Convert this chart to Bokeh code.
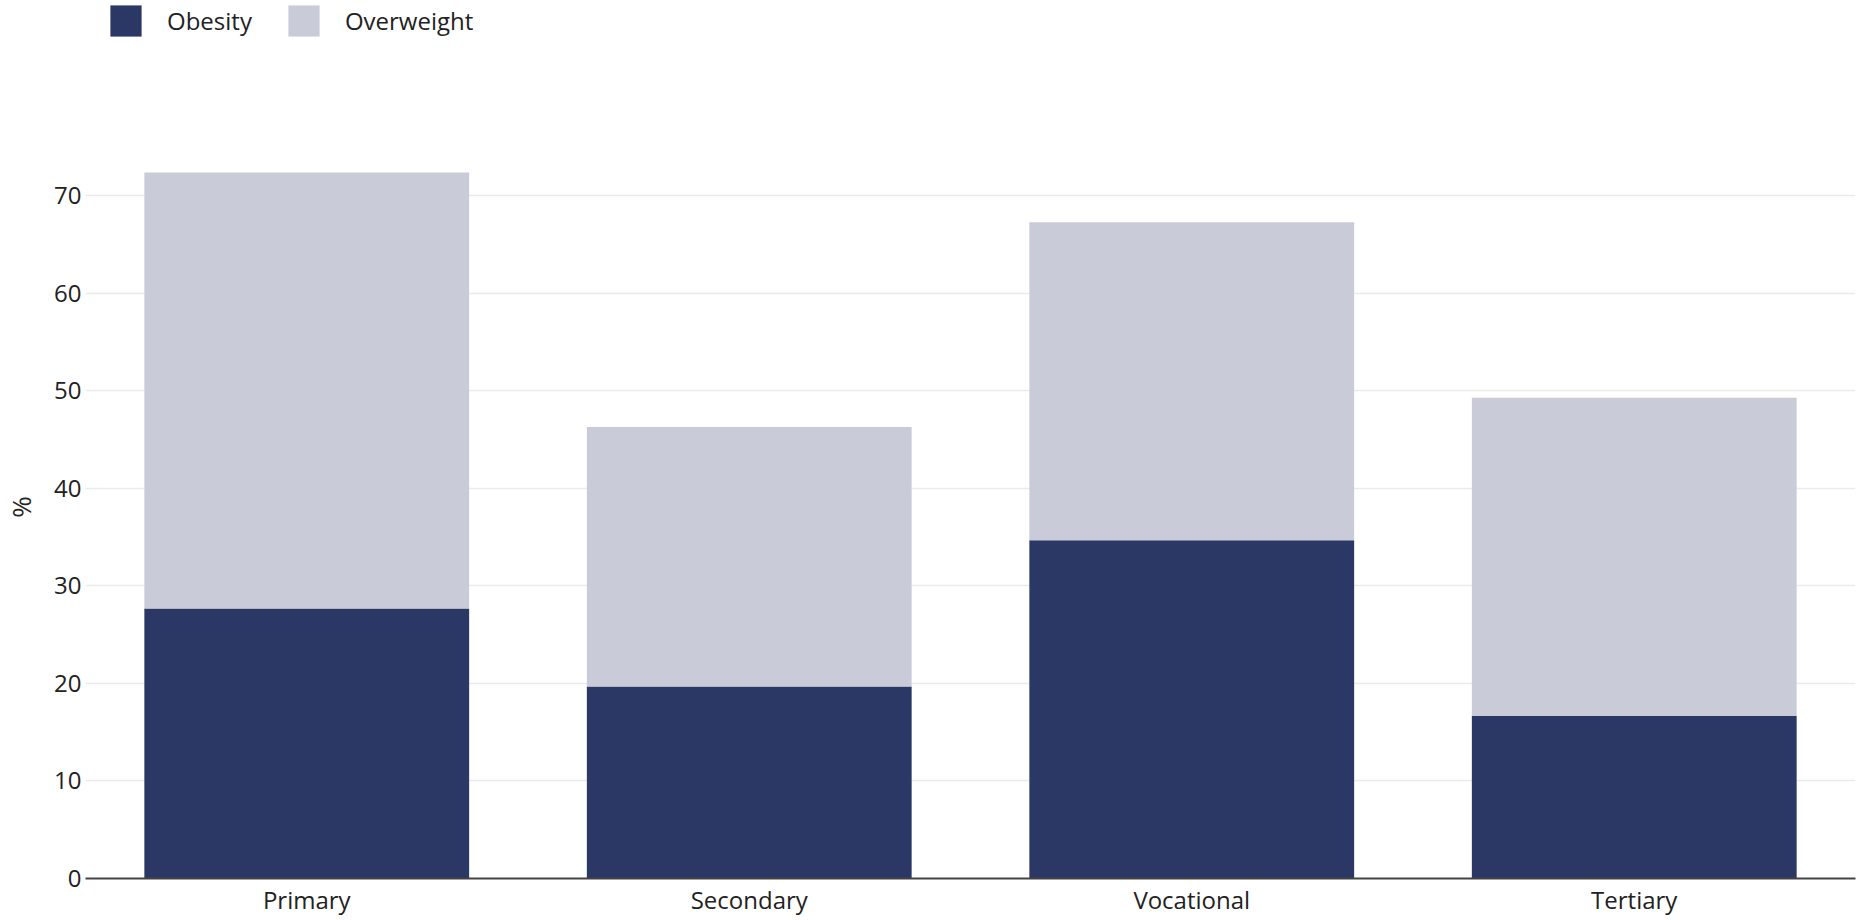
from bokeh.plotting import figure
from bokeh.layouts import column
from bokeh.models import ColumnDataSource, FactorRange, Range1d, Legend, LegendItem, FixedTicker
from bokeh.embed import file_html
from bokeh.resources import INLINE

categories = ["Primary", "Secondary", "Vocational", "Tertiary"]
obesity = [27.7, 19.7, 34.7, 16.7]
overweight = [44.7, 26.6, 32.6, 32.6]
series_names = ["Obesity", "Overweight"]
colors = ["#2b3764", "#c9ccd8"]
y_ticks = [0, 10, 20, 30, 40, 50, 60, 70]

FONT = "Open Sans"
TEXT = "#222222"
LEG_H = 135

# ---------------- main chart ----------------
source = ColumnDataSource(data=dict(cat=categories, Obesity=obesity, Overweight=overweight))

p = figure(
    x_range=FactorRange(factors=categories, range_padding=0),
    y_range=Range1d(0, 76.2),
    frame_width=1770, frame_height=743,
    output_backend="svg", toolbar_location=None,
    min_border_left=85, min_border_right=2, min_border_top=0, min_border_bottom=0,
)

renderers = p.vbar_stack(series_names, x="cat", width=0.734, color=colors,
                         line_color=None, source=source)

p.outline_line_color = None
p.xgrid.grid_line_color = None
p.ygrid.grid_line_color = "#ebebeb"
p.ygrid.grid_line_width = 1.5
p.yaxis.ticker = FixedTicker(ticks=y_ticks)

p.xaxis.axis_line_color = "#444444"
p.xaxis.axis_line_width = 2
p.xaxis.major_tick_line_color = None
p.xaxis.minor_tick_line_color = None
p.xaxis.major_tick_out = 0
p.xaxis.minor_tick_out = 0
p.xaxis.major_label_standoff = 4
p.xaxis.major_label_text_font = FONT
p.xaxis.major_label_text_font_size = "24px"
p.xaxis.major_label_text_color = TEXT

p.yaxis.axis_line_color = None
p.yaxis.major_tick_line_color = None
p.yaxis.minor_tick_line_color = None
p.yaxis.major_tick_out = 0
p.yaxis.minor_tick_out = 0
p.yaxis.major_label_standoff = 4
p.yaxis.major_label_text_font = FONT
p.yaxis.major_label_text_font_size = "24px"
p.yaxis.major_label_text_color = TEXT
p.yaxis.axis_label = "%"
p.yaxis.axis_label_standoff = 12
p.yaxis.axis_label_text_font = FONT
p.yaxis.axis_label_text_font_size = "26px"
p.yaxis.axis_label_text_font_style = "normal"
p.yaxis.axis_label_text_color = TEXT

# ---------------- legend strip above the chart ----------------
# same stacked bars as hidden renderers, used only to feed the legend
leg = figure(
    width=1857, height=LEG_H,
    x_range=FactorRange(factors=categories, range_padding=0), y_range=Range1d(-2, -1),
    x_axis_type=None, y_axis_type=None,
    output_backend="svg", toolbar_location=None,
    min_border_left=0, min_border_right=0, min_border_top=0, min_border_bottom=0,
)
leg.outline_line_color = None
leg.grid.visible = False
leg_renderers = leg.vbar_stack(series_names, x="cat", width=0.734, color=colors,
                               line_color=None, source=source)
for r in leg_renderers:
    r.visible = False

legend = Legend(items=[LegendItem(label=n, renderers=[r]) for n, r in zip(series_names, leg_renderers)],
                location=(21, LEG_H - 40), orientation="horizontal")
legend.glyph_width = 39
legend.glyph_height = 39
legend.label_height = 39
legend.label_standoff = 22
legend.spacing = 32
legend.padding = 0
legend.margin = 0
legend.border_line_color = None
legend.background_fill_alpha = 0
legend.label_text_font = FONT
legend.label_text_font_size = "24px"
legend.label_text_color = TEXT
leg.add_layout(legend, "center")

layout = column(leg, p, spacing=0)

open("out.html", "w").write(file_html(layout, INLINE))
